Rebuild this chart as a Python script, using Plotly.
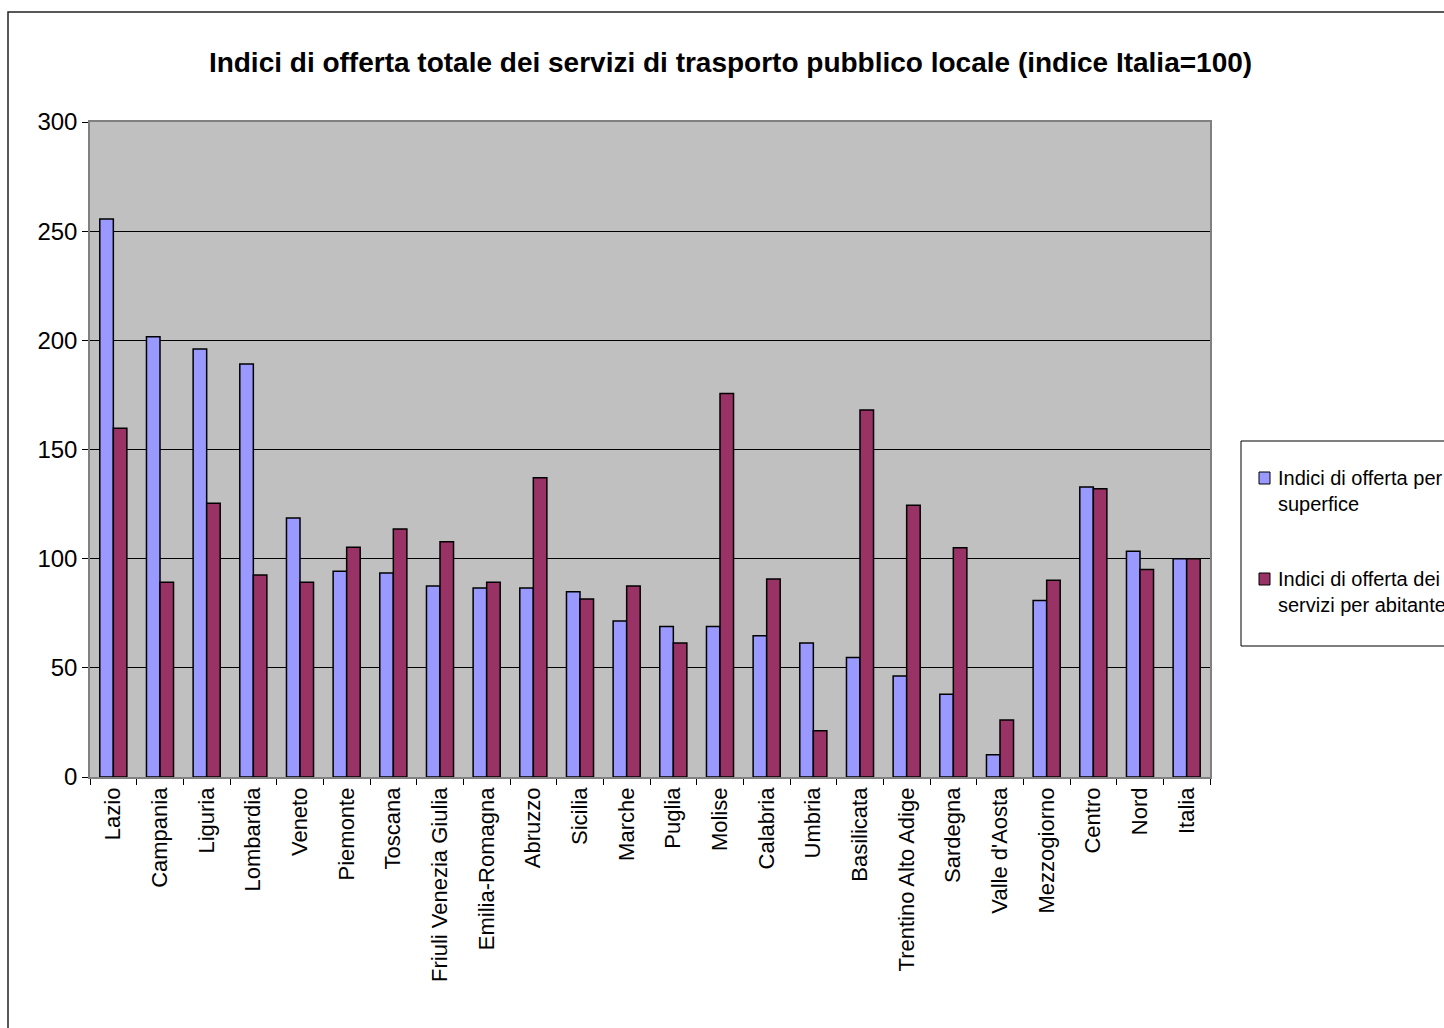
import plotly.graph_objects as go

categories = ["Lazio", "Campania", "Liguria", "Lombardia", "Veneto", "Piemonte", "Toscana",
              "Friuli Venezia Giulia", "Emilia-Romagna", "Abruzzo", "Sicilia", "Marche", "Puglia",
              "Molise", "Calabria", "Umbria", "Basilicata", "Trentino Alto Adige", "Sardegna",
              "Valle d'Aosta", "Mezzogiorno", "Centro", "Nord", "Italia"]
superficie = [255.6, 201.6, 196.0, 189.2, 118.6, 94.2, 93.4, 87.5, 86.6, 86.6, 84.9, 71.5, 68.9,
              68.9, 64.7, 61.4, 54.7, 46.3, 37.9, 10.2, 80.8, 132.8, 103.4, 100.0]
abitante = [159.7, 89.2, 125.4, 92.5, 89.2, 105.2, 113.6, 107.7, 89.2, 137.1, 81.5, 87.5, 61.4,
            175.6, 90.7, 21.2, 168.1, 124.5, 105.0, 26.1, 90.1, 132.0, 95.0, 100.0]
series_names = ["Indici di offerta per<br>superfice", "Indici di offerta dei<br>servizi per abitante"]
y_ticks = [0, 50, 100, 150, 200, 250, 300]
title_text = "Indici di offerta totale dei servizi di trasporto pubblico locale (indice Italia=100)"

W, H = 1444, 1028
L, R, T, B = 90, 1210, 122, 777

def px(x):
    return (x - L) / (R - L)

def py(y):
    return (B - y) / (B - T)

colors = ["#9999FF", "#993366"]
FONT = "Liberation Sans, Arial, sans-serif"

fig = go.Figure()
for name, vals, c in zip(series_names, [superficie, abitante], colors):
    fig.add_trace(go.Bar(x=categories, y=vals, name=name, marker=dict(color=c, line=dict(color="black", width=1.5)),
                         showlegend=False))

shapes = []
# outer frame
shapes.append(dict(type="rect", xref="paper", yref="paper", x0=px(8), x1=px(1460), y0=py(12), y1=py(1040),
                   line=dict(color="#222222", width=1.5), fillcolor="rgba(0,0,0,0)", layer="below"))
# legend box
shapes.append(dict(type="rect", xref="paper", yref="paper", x0=px(1241), x1=px(1460), y0=py(441), y1=py(646),
                   line=dict(color="black", width=1), fillcolor="white"))
annotations = []
for i, (name, c) in enumerate(zip(series_names, colors)):
    cy = 478 + i * 101
    shapes.append(dict(type="rect", xref="paper", yref="paper", x0=px(1259), x1=px(1270), y0=py(cy - 6), y1=py(cy + 6),
                       line=dict(color="black", width=1), fillcolor=c))
    annotations.append(dict(text=name, xref="paper", yref="paper", x=px(1276), y=py(cy - 13), xanchor="left",
                            yanchor="top", align="left", showarrow=False,
                            font=dict(family=FONT, size=20, color="black")))

fig.update_layout(
    width=W, height=H,
    margin=dict(l=L, r=W - R, t=T, b=H - B),
    paper_bgcolor="white", plot_bgcolor="#C0C0C0",
    barmode="group", bargap=0.42, bargroupgap=0,
    title=dict(text="<b>" + title_text + "</b>", x=730.5 / W, xanchor="center", y=1 - 62 / H, yanchor="middle",
               font=dict(family=FONT, size=28, color="black")),
    xaxis=dict(type="category", tickangle=-90, ticks="outside", tickson="boundaries", ticklen=6,
               tickcolor="black", showline=True, linecolor="#808080", linewidth=1.5, mirror=True,
               tickfont=dict(family=FONT, size=22, color="black"), showgrid=False),
    yaxis=dict(range=[0, 300], tickvals=y_ticks, ticks="outside", ticklen=6, tickcolor="black",
               showline=True, linecolor="#808080", linewidth=1.5, mirror=True,
               gridcolor="black", gridwidth=1, zeroline=False,
               tickfont=dict(family=FONT, size=24, color="black")),
    shapes=shapes, annotations=annotations,
)

fig.write_html("out.html")
